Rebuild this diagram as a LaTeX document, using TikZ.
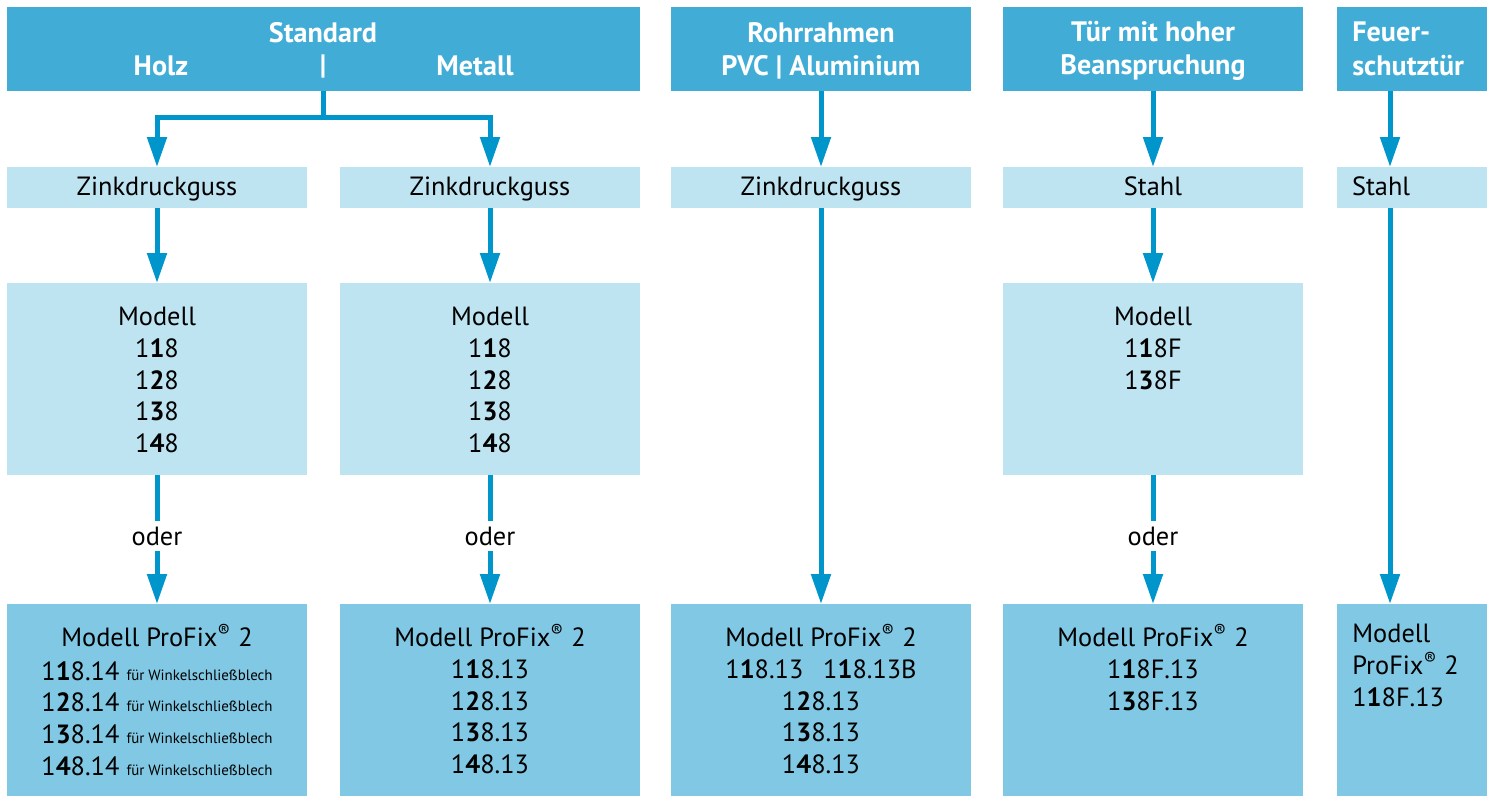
\documentclass[tikz,border=0pt]{standalone}
\usepackage{fontspec}
\setmainfont{PT Sans}
\usetikzlibrary{positioning,arrows.meta}
\definecolor{headblue} {HTML}{41ADD7}
\definecolor{paleblue} {HTML}{BEE3F1}
\definecolor{midblue}  {HTML}{80C8E4}
\definecolor{arrowblue}{HTML}{0096CC}
\newcommand\wsb{{\fontsize{8.5}{10}\selectfont für Winkelschließblech}}
\newcommand\regm{\textsuperscript{®}}
\tikzset{
  head/.style={fill=headblue,inner sep=0pt,outer sep=0pt,minimum height=1.68cm},
  headtxt/.style={text=white,inner sep=0pt,align=center,
                  font=\fontsize{16}{19}\selectfont\bfseries},
  matbox/.style={fill=paleblue,inner sep=0pt,outer sep=0pt,minimum width=6cm,
                 minimum height=0.82cm,text height=1.1em,text depth=0.2em,
                 font=\fontsize{15}{18}\selectfont},
  modbox/.style={fill=paleblue,inner sep=0pt,outer sep=0pt,minimum width=6cm,
                 minimum height=3.84cm},
  probox/.style={fill=midblue,inner sep=0pt,outer sep=0pt,minimum width=6cm,
                 minimum height=3.84cm},
  boxtxt/.style={anchor=north,inner sep=0pt,align=center,
                 font=\fontsize{15}{18}\selectfont},
  orlabel/.style={inner sep=0pt,minimum height=0.6cm,
                  font=\fontsize{15}{18}\selectfont},
  flow/.style={-{Triangle[length=0.6cm,width=0.38cm]},line width=0.1cm,
               draw=arrowblue},
  link/.style={line width=0.1cm,draw=arrowblue}
}

\begin{document}
\begin{tikzpicture}[x=0.02cm,y=-0.02cm]
  \useasboundingbox (0,0) rectangle (1487,796);

  % header row
  \node[head,minimum width=12.66cm] (head1) at (323.5,49) {};
  \node[head,minimum width=6cm] (head3) at (821,49)  {};
  \node[head,minimum width=6cm] (head4) at (1153,49) {};
  \node[head,minimum width=3cm] (head5) at (1412,49) {};
  \node[headtxt] (std)    at (323,33) {Standard};
  \node[headtxt] (holz)   at (161,66) {Holz};
  \node[headtxt] (bar)    at (323,66) {|};
  \node[headtxt] (metall) at (475,66) {Metall};
  \node[headtxt] (head3t) at (821,51)  {Rohrrahmen\\PVC | Aluminium};
  \node[headtxt] (head4t) at (1153,51) {Tür mit hoher\\Beanspruchung};
  \node[headtxt,anchor=west,align=left] (head5t) at (1352,49) {Feuer-\\schutztür};

  % material row
  \node[matbox] (mat1) at (157,187.5)  {Zinkdruckguss};
  \node[matbox] (mat2) at (490,187.5)  {Zinkdruckguss};
  \node[matbox] (mat3) at (821,187.5)  {Zinkdruckguss};
  \node[matbox] (mat4) at (1153,187.5) {Stahl};
  \node[matbox,minimum width=3cm,text width=2.4cm,inner xsep=0.3cm,align=left]
    (mat5) at (1412,187.5) {Stahl};

  % model row
  \node[modbox] (mod1) at (157,379)  {};
  \node[modbox] (mod2) at (490,379)  {};
  \node[modbox] (mod4) at (1153,379) {};
  \node[boxtxt] (mod1t) at (157,307)
    {Modell\\1\textbf{1}8\\1\textbf{2}8\\1\textbf{3}8\\1\textbf{4}8};
  \node[boxtxt] (mod2t) at (490,307)
    {Modell\\1\textbf{1}8\\1\textbf{2}8\\1\textbf{3}8\\1\textbf{4}8};
  \node[boxtxt] (mod4t) at (1153,307)
    {Modell\\1\textbf{1}8F\\1\textbf{3}8F};

  % ProFix row
  \node[probox] (pro1) at (157,700)  {};
  \node[probox] (pro2) at (490,700)  {};
  \node[probox] (pro3) at (821,700)  {};
  \node[probox] (pro4) at (1153,700) {};
  \node[probox,minimum width=3cm] (pro5) at (1412,700) {};
  \node[boxtxt] (pro1t) at (157,624)
    {Modell ProFix\regm{} 2\\[1pt]1\textbf{1}8.14 \wsb\\1\textbf{2}8.14 \wsb\\
     1\textbf{3}8.14 \wsb\\1\textbf{4}8.14 \wsb};
  \node[boxtxt] (pro2t) at (490,624)
    {Modell ProFix\regm{} 2\\1\textbf{1}8.13\\1\textbf{2}8.13\\1\textbf{3}8.13\\1\textbf{4}8.13};
  \node[boxtxt] (pro3t) at (821,624)
    {Modell ProFix\regm{} 2\\1\textbf{1}8.13\hspace{0.75em}1\textbf{1}8.13B\\
     1\textbf{2}8.13\\1\textbf{3}8.13\\1\textbf{4}8.13};
  \node[boxtxt] (pro4t) at (1153,624)
    {Modell ProFix\regm{} 2\\1\textbf{1}8F.13\\1\textbf{3}8F.13};
  \node[boxtxt,anchor=north west,align=left] (pro5t) at (1352,624)
    {Modell\\ProFix\regm{} 2\\1\textbf{1}8F.13};

  % or labels
  \node[orlabel] (or1) at (157,536)  {oder};
  \node[orlabel] (or2) at (490,536)  {oder};
  \node[orlabel] (or4) at (1153,536) {oder};

  % connectors
  \coordinate (split) at (323.5,117);
  \coordinate (fx) at (1390,0);
  \draw[link] (head1.south) -- (split);
  \draw[flow] (split) -| (mat1);
  \draw[flow] (split) -| (mat2);
  \draw[flow] (head3) -- (mat3);
  \draw[flow] (head4) -- (mat4);
  \draw[flow] (head5.south -| fx) -- (mat5.north -| fx);

  \draw[flow] (mat1) -- (mod1);
  \draw[flow] (mat2) -- (mod2);
  \draw[flow] (mat4) -- (mod4);
  \draw[flow] (mat3) -- (pro3);
  \draw[flow] (mat5.south -| fx) -- (pro5.north -| fx);

  \draw[link] (mod1) -- (or1);
  \draw[flow] (or1) -- (pro1);
  \draw[link] (mod2) -- (or2);
  \draw[flow] (or2) -- (pro2);
  \draw[link] (mod4) -- (or4);
  \draw[flow] (or4) -- (pro4);
\end{tikzpicture}
\end{document}
